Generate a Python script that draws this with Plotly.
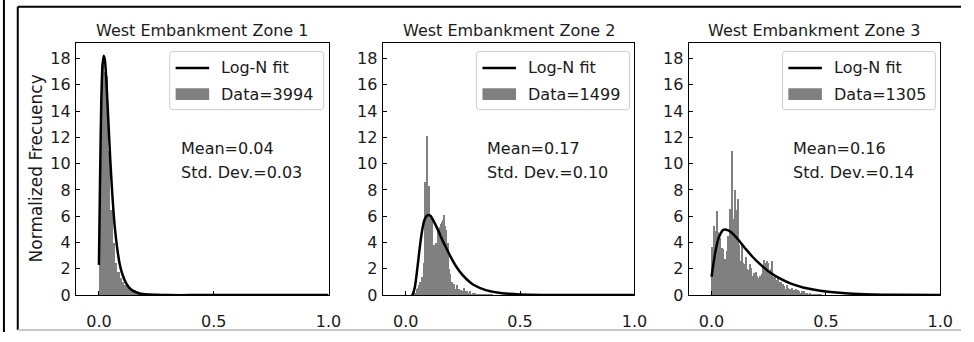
import plotly.graph_objects as go

W, H = 974, 342

titles = ["West Embankment Zone 1", "West Embankment Zone 2", "West Embankment Zone 3"]
sample_sizes = [3994, 1499, 1305]
means = [0.04, 0.17, 0.16]
std_devs = [0.03, 0.10, 0.14]

# Histogram densities (normalized), bins start at 0.0
zone1_bin = 0.01
zone1_density = [9.0, 17.5, 17.0, 16.7, 11.0, 6.5, 4.0, 2.5, 1.8, 1.3, 1.0, 0.8, 0.7, 0.6,
                 0.5, 0.4, 0.3, 0.2, 0.15, 0.1, 0.05]

zone2_bin = 0.005
zone2_density = [0, 0, 0, 0, 0, 0.1, 0.2, 0.3, 0.2, 0.5, 0.6, 0.8, 1.0, 0.9, 1.4, 2.5,
                 8.6, 8.4, 12.1, 8.3, 8.3, 6.0, 6.0, 3.6, 3.8, 2.0, 4.0, 3.9, 4.9, 5.2,
                 5.4, 5.6, 5.7, 6.1, 5.3, 5.0, 4.0, 2.0, 1.6, 0.9, 1.0, 0.6, 0.9, 0.5,
                 0.8, 0.4, 0.5, 0.3, 0.4, 0.3, 0.6, 0.3, 0.2, 0.3, 0.2, 0.1, 0.3, 0.1,
                 0.2, 0.1, 0.2, 0.1, 0.1, 0.1, 0.1, 0.05, 0.1, 0.05, 0.05, 0.05, 0.05,
                 0.05, 0.0, 0.05, 0.0, 0.05]

zone3_bin = 0.005
zone3_density = [3.7, 5.3, 4.5, 4.9, 6.4, 4.8, 4.2, 4.4, 3.6, 3.5, 2.2, 2.8, 2.0, 3.4, 4.5,
                 6.6, 4.0, 11.0, 5.8, 4.1, 8.0, 6.5, 7.3, 3.8, 2.6, 1.8, 4.0, 2.5, 2.4,
                 2.9, 2.0, 1.9, 1.8, 2.4, 2.1, 1.5, 1.7, 1.6, 1.8, 1.5, 1.3, 1.2, 1.5,
                 1.6, 2.2, 2.7, 2.0, 2.5, 2.6, 2.5, 1.8, 2.0, 2.6, 1.4, 1.3, 1.5, 1.2,
                 1.3, 1.0, 0.8, 1.0, 0.6, 0.9, 0.7, 0.5, 0.8, 0.6, 0.5, 0.4, 0.5, 0.6,
                 0.4, 0.3, 0.5, 0.3, 0.4, 0.3, 0.2, 0.3, 0.2, 0.3, 0.2, 0.1, 0.2, 0.1,
                 0.2, 0.1, 0.1, 0.1, 0.1, 0.05, 0.1, 0.05, 0.05, 0.05, 0.05]

# Fitted log-normal curves, sampled points
fit1_x = [0.0, 0.005, 0.01, 0.015, 0.02, 0.025, 0.03, 0.035, 0.04, 0.05, 0.06, 0.07, 0.08,
          0.09, 0.10, 0.12, 0.14, 0.17, 0.20, 0.25, 0.30, 0.40, 1.0]
fit1_y = [2.3, 9.0, 14.5, 17.3, 18.2, 18.0, 17.0, 15.4, 13.6, 10.1, 7.2, 5.0, 3.5,
          2.4, 1.7, 0.85, 0.42, 0.16, 0.06, 0.02, 0.0, 0.0, 0.0]

fit2_x = [0.03, 0.04, 0.05, 0.06, 0.07, 0.08, 0.09, 0.10, 0.11, 0.12, 0.14, 0.16, 0.18,
          0.20, 0.22, 0.25, 0.28, 0.30, 0.35, 0.40, 0.45, 0.50, 0.60, 0.70, 1.0]
fit2_y = [0.0, 0.6, 1.9, 3.4, 4.7, 5.6, 6.0, 6.1, 6.0, 5.7, 5.0, 4.2, 3.5,
          2.8, 2.2, 1.5, 1.0, 0.75, 0.38, 0.2, 0.1, 0.05, 0.015, 0.0, 0.0]

fit3_x = [0.0, 0.01, 0.02, 0.03, 0.04, 0.05, 0.06, 0.07, 0.08, 0.10, 0.12, 0.15, 0.18,
          0.20, 0.25, 0.30, 0.35, 0.40, 0.45, 0.50, 0.60, 0.70, 0.80, 1.0]
fit3_y = [1.4, 2.6, 3.6, 4.3, 4.7, 4.95, 5.0, 4.95, 4.85, 4.55, 4.15, 3.5, 2.9,
          2.55, 1.8, 1.25, 0.85, 0.58, 0.4, 0.27, 0.12, 0.05, 0.02, 0.0]

x_ticks = [0.0, 0.5, 1.0]
y_ticks = [0, 2, 4, 6, 8, 10, 12, 14, 16, 18]

bins = [zone1_bin, zone2_bin, zone3_bin]
densities = [zone1_density, zone2_density, zone3_density]
fits = [(fit1_x, fit1_y), (fit2_x, fit2_y), (fit3_x, fit3_y)]

# Panel placement in pixels
panel_px = [(77, 333), (388, 643), (698, 953)]
top_px, bottom_px = 44, 304

FONT = "DejaVu Sans"
TXT = "#1a1a1a"
BAR = "#808080"
FS = 16


def px_x(p):
    return p / W


def px_y(p):
    return 1 - p / H


fig = go.Figure()

for i in range(3):
    xa = "x" if i == 0 else f"x{i + 1}"
    ya = "y" if i == 0 else f"y{i + 1}"
    dens = densities[i]
    w = bins[i]
    centers = [w * (k + 0.5) for k in range(len(dens))]
    fx, fy = fits[i]
    fig.add_trace(go.Bar(
        x=centers, y=dens, width=w, marker=dict(color=BAR, line=dict(width=0)),
        name=f"Data={sample_sizes[i]}", xaxis=xa, yaxis=ya, showlegend=False))
    fig.add_trace(go.Scatter(
        x=fx, y=fy, mode="lines",
        line=dict(color="black", width=2.5, shape="spline", smoothing=0.6),
        name="Log-N fit", xaxis=xa, yaxis=ya, showlegend=False, hoverinfo="skip"))

layout = dict(
    width=W, height=H, margin=dict(l=0, r=0, t=0, b=0),
    paper_bgcolor="white", plot_bgcolor="white",
    showlegend=False, bargap=0,
    font=dict(family=FONT, size=FS, color=TXT),
)

y0 = px_y(bottom_px)
y1 = px_y(top_px)
annotations = []
shapes = []
for i, (l, r) in enumerate(panel_px):
    sfx = "" if i == 0 else str(i + 1)
    axis_common = dict(
        showline=True, linecolor="black", linewidth=1.3, mirror=True,
        ticks="inside", ticklen=4, tickwidth=1, tickcolor="black",
        showgrid=False, zeroline=False,
        tickfont=dict(family=FONT, size=FS, color=TXT),
    )
    layout[f"xaxis{sfx}"] = dict(
        axis_common, domain=[px_x(l), px_x(r)], range=[-0.1, 1.0],
        tickvals=x_ticks, ticktext=[f"{v:.1f}" for v in x_ticks],
        anchor=f"y{sfx}", ticklabelstandoff=12,
    )
    layout[f"yaxis{sfx}"] = dict(
        axis_common, domain=[y0, y1], range=[0, 19.2],
        tickvals=y_ticks, anchor=f"x{sfx}", ticklabelstandoff=1,
    )
    annotations.append(dict(
        text=titles[i], x=px_x((l + r) / 2), y=px_y(31), xref="paper", yref="paper",
        showarrow=False, font=dict(family=FONT, size=FS, color=TXT),
        xanchor="center", yanchor="middle"))
    annotations.append(dict(
        text=f"Mean={means[i]:.2f}", x=px_x(l + 104), y=px_y(153),
        xref="paper", yref="paper", showarrow=False, xanchor="left", yanchor="middle",
        font=dict(family=FONT, size=FS, color=TXT)))
    annotations.append(dict(
        text=f"Std. Dev.={std_devs[i]:.2f}", x=px_x(l + 104), y=px_y(178),
        xref="paper", yref="paper", showarrow=False, xanchor="left", yanchor="middle",
        font=dict(family=FONT, size=FS, color=TXT)))

    # Legend box with a line sample and a bar patch
    bx0, bx1, by0, by1, rad = l + 95, r - 5, 53, 113, 3
    path = (f"M {px_x(bx0 + rad)},{px_y(by0)} L {px_x(bx1 - rad)},{px_y(by0)} "
            f"Q {px_x(bx1)},{px_y(by0)} {px_x(bx1)},{px_y(by0 + rad)} "
            f"L {px_x(bx1)},{px_y(by1 - rad)} "
            f"Q {px_x(bx1)},{px_y(by1)} {px_x(bx1 - rad)},{px_y(by1)} "
            f"L {px_x(bx0 + rad)},{px_y(by1)} "
            f"Q {px_x(bx0)},{px_y(by1)} {px_x(bx0)},{px_y(by1 - rad)} "
            f"L {px_x(bx0)},{px_y(by0 + rad)} "
            f"Q {px_x(bx0)},{px_y(by0)} {px_x(bx0 + rad)},{px_y(by0)} Z")
    shapes.append(dict(type="path", xref="paper", yref="paper", path=path,
                       fillcolor="rgba(255,255,255,0.8)", line=dict(color="#cccccc", width=1)))
    shapes.append(dict(type="line", xref="paper", yref="paper",
                       x0=px_x(l + 101), x1=px_x(l + 135), y0=px_y(70), y1=px_y(70),
                       line=dict(color="black", width=2.5)))
    shapes.append(dict(type="rect", xref="paper", yref="paper",
                       x0=px_x(l + 101), x1=px_x(l + 135), y0=px_y(91), y1=px_y(103),
                       fillcolor=BAR, line=dict(width=0)))
    annotations.append(dict(
        text="Log-N fit", x=px_x(l + 145), y=px_y(70), xref="paper", yref="paper",
        showarrow=False, xanchor="left", yanchor="middle",
        font=dict(family=FONT, size=FS, color=TXT)))
    annotations.append(dict(
        text=f"Data={sample_sizes[i]}", x=px_x(l + 145), y=px_y(97), xref="paper", yref="paper",
        showarrow=False, xanchor="left", yanchor="middle",
        font=dict(family=FONT, size=FS, color=TXT)))

annotations.append(dict(
    text="Normalized Frecuency", x=px_x(36), y=(y0 + y1) / 2, xref="paper", yref="paper",
    showarrow=False, textangle=-90, xanchor="center", yanchor="middle",
    font=dict(family=FONT, size=17, color=TXT)))
layout["annotations"] = annotations

# Outer frame lines
shapes += [
    dict(type="line", xref="paper", yref="paper", x0=px_x(4), x1=px_x(4), y0=0, y1=1,
         line=dict(color="black", width=2)),
    dict(type="line", xref="paper", yref="paper", x0=px_x(18), x1=px_x(18), y0=px_y(340), y1=px_y(7),
         line=dict(color="black", width=2)),
    dict(type="line", xref="paper", yref="paper", x0=px_x(18), x1=1, y0=px_y(7), y1=px_y(7),
         line=dict(color="black", width=2)),
    dict(type="line", xref="paper", yref="paper", x0=px_x(18), x1=1, y0=px_y(340), y1=px_y(340),
         line=dict(color="#c8c8c8", width=2)),
]
layout["shapes"] = shapes

fig.update_layout(**layout)
fig.write_html("out.html")
